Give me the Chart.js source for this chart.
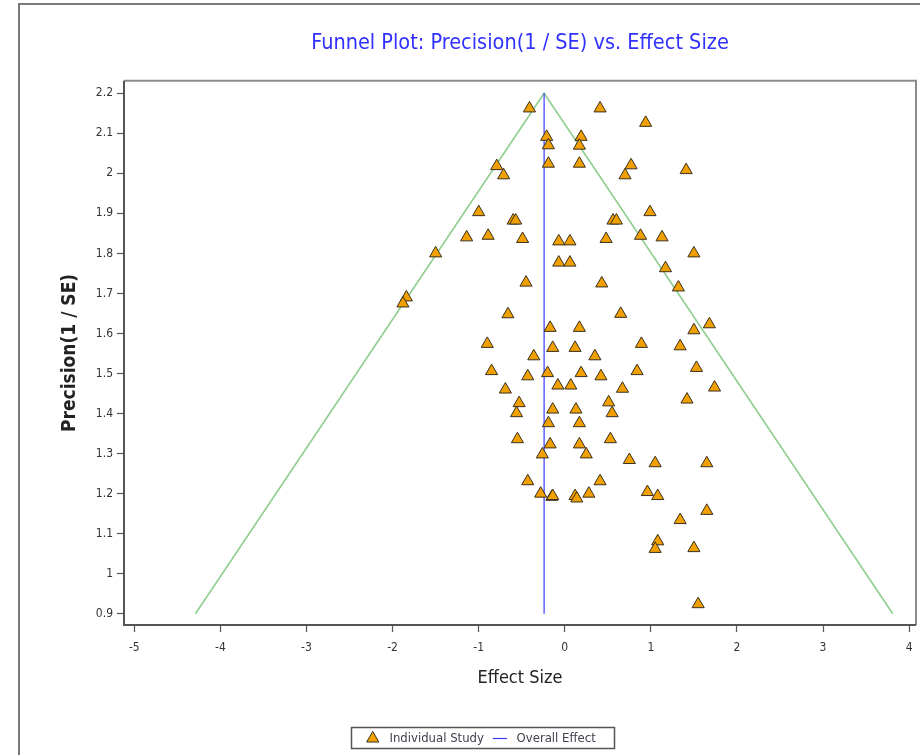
<!DOCTYPE html>
<html>
<head>
<meta charset="utf-8">
<script src="https://cdn.jsdelivr.net/npm/chart.js@4.4.1/dist/chart.umd.min.js"></script>
<style>
  html, body { margin: 0; padding: 0; background: #fff; }
  #wrap { width: 920px; height: 755px; position: relative; }
</style>
</head>
<body>
<div id="wrap"><canvas id="c" width="920" height="755"></canvas></div>
<script>
// ---- Data ----
const effectSize = [
  -0.41, 0.41, 0.94, -0.21, -0.19, 0.19, 0.17, -0.19, 0.17, -0.79,
  -0.71, 0.77, 0.70, 1.41, -1.00, -0.60, -0.57, 0.56, 0.60, 0.99,
  -1.14, -0.89, -0.49, -0.07, 0.06, 0.48, 0.88, 1.13, -1.50, 1.50,
  -0.07, 0.06, 1.17, -1.84, -1.88, -0.45, 0.43, 1.32, -0.66, 0.65,
  -0.17, 0.17, 1.50, 1.68, -0.90, -0.14, 0.12, 0.89, 1.34, -0.36,
  0.35, -0.85, -0.43, -0.20, 0.19, 0.42, 0.84, 1.53, -0.69, -0.08,
  0.07, 0.67, 1.74, -0.53, -0.56, -0.14, 0.13, 0.51, 0.55, 1.42,
  -0.19, 0.17, -0.55, -0.17, 0.17, 0.53, -0.26, 0.25, 0.75, 1.05,
  1.65, -0.43, 0.41, -0.28, -0.15, -0.14, 0.12, 0.14, 0.28, 0.96,
  1.08, 1.65, 1.34, 1.08, 1.05, 1.50, 1.55
];
const precision = [
  2.162, 2.162, 2.126, 2.091, 2.070, 2.091, 2.069, 2.024, 2.024, 2.018,
  1.995, 2.020, 1.995, 2.008, 1.903, 1.882, 1.882, 1.882, 1.882, 1.903,
  1.840, 1.844, 1.836, 1.830, 1.830, 1.836, 1.844, 1.840, 1.800, 1.800,
  1.777, 1.777, 1.763, 1.690, 1.675, 1.727, 1.725, 1.715, 1.648, 1.649,
  1.614, 1.614, 1.608, 1.623, 1.574, 1.564, 1.564, 1.574, 1.568, 1.543,
  1.543, 1.506, 1.493, 1.501, 1.501, 1.493, 1.506, 1.514, 1.460, 1.470,
  1.470, 1.462, 1.465, 1.426, 1.401, 1.410, 1.410, 1.428, 1.401, 1.435,
  1.376, 1.376, 1.336, 1.323, 1.323, 1.336, 1.298, 1.298, 1.284, 1.276,
  1.276, 1.231, 1.231, 1.200, 1.192, 1.194, 1.194, 1.188, 1.200, 1.204,
  1.194, 1.157, 1.134, 1.081, 1.062, 1.064, 0.924
];
const overallX = [-0.24, -0.24];
const overallY = [0.9, 2.2];
const funnelX = [-4.29, -0.24, 3.81];
const funnelY = [0.9, 2.2, 0.9];
const xTicks = [-5, -4, -3, -2, -1, 0, 1, 2, 3, 4];
const yTicks = [0.9, 1.0, 1.1, 1.2, 1.3, 1.4, 1.5, 1.6, 1.7, 1.8, 1.9, 2.0, 2.1, 2.2];
const seriesNames = ['Individual Study', 'Overall Effect', 'Funnel'];
const titleText = 'Funnel Plot: Precision(1 / SE) vs. Effect Size';
const xTitle = 'Effect Size';
const yTitle = 'Precision(1 / SE)';

const FONT = "'Liberation Sans Narrow', 'DejaVu Sans Condensed', 'Noto Sans', sans-serif";

const zip = (xs, ys) => xs.map((x, i) => ({ x: x, y: ys[i] }));

const framePlugin = {
  id: 'frames',
  beforeDraw(chart) {
    const ctx = chart.ctx;
    ctx.save();
    ctx.fillStyle = '#ffffff';
    ctx.fillRect(0, 0, chart.width, chart.height);
    ctx.strokeStyle = '#7a7a7a';
    ctx.lineWidth = 2;
    ctx.beginPath();
    ctx.moveTo(19, chart.height + 5);
    ctx.lineTo(19, 4);
    ctx.lineTo(chart.width + 5, 4);
    ctx.stroke();
    ctx.restore();
  },
  afterDraw(chart) {
    const a = chart.chartArea;
    const ctx = chart.ctx;
    ctx.save();
    ctx.lineWidth = 2;
    ctx.strokeStyle = '#8c8c8c';
    ctx.beginPath();
    ctx.moveTo(a.left, a.top);
    ctx.lineTo(a.right, a.top);
    ctx.lineTo(a.right, a.bottom);
    ctx.stroke();
    ctx.strokeStyle = '#555555';
    ctx.beginPath();
    ctx.moveTo(a.left, a.top);
    ctx.lineTo(a.left, a.bottom);
    ctx.lineTo(a.right, a.bottom);
    ctx.stroke();
    // legend box
    const lg = chart.legend;
    if (lg && lg.legendHitBoxes && lg.legendHitBoxes.length) {
      const hb = lg.legendHitBoxes;
      let l = Infinity, r = -Infinity, t = Infinity, b = -Infinity;
      hb.forEach(h => { l = Math.min(l, h.left); r = Math.max(r, h.left + h.width); t = Math.min(t, h.top); b = Math.max(b, h.top + h.height); });
      ctx.lineWidth = 1.5;
      ctx.strokeStyle = '#555555';
      ctx.strokeRect(Math.round(l - 15) + 0.5, Math.round(t - 5) + 0.5, Math.round(r - l + 34), Math.round(b - t + 8));
    }
    ctx.restore();
  }
};

new Chart(document.getElementById('c'), {
  type: 'scatter',
  data: {
    datasets: [
      {
        label: seriesNames[0],
        data: zip(effectSize, precision),
        pointStyle: 'triangle',
        pointRadius: 7,
        pointHoverRadius: 7,
        backgroundColor: '#f0a000',
        borderColor: '#3a3020',
        pointBackgroundColor: '#f0a000',
        pointBorderColor: '#3a3020',
        borderWidth: 1,
        pointBorderWidth: 1
      },
      {
        label: seriesNames[1],
        data: zip(overallX, overallY),
        showLine: true,
        borderColor: '#3838ff',
        backgroundColor: '#3838ff',
        pointBorderColor: '#3838ff',
        borderWidth: 1.2,
        pointRadius: 0,
        pointHoverRadius: 0,
        pointStyle: 'line'
      },
      {
        label: seriesNames[2],
        data: zip(funnelX, funnelY),
        showLine: true,
        borderColor: '#8fcf8f',
        backgroundColor: '#8fcf8f',
        borderWidth: 1.6,
        pointRadius: 0,
        pointHoverRadius: 0
      }
    ]
  },
  options: {
    responsive: false,
    animation: false,
    events: [],
    layout: { autoPadding: false, padding: { left: 46, right: 4, top: 0, bottom: 0 } },
    plugins: {
      tooltip: { enabled: false },
      title: {
        display: true,
        text: titleText,
        fullSize: false,
        color: '#3030ff',
        font: { family: FONT, size: 21.5, weight: 'normal', lineHeight: 1.2 },
        padding: { top: 31, bottom: 24 }
      },
      legend: {
        display: true,
        position: 'bottom',
        labels: {
          usePointStyle: true,
          boxHeight: 10,
          padding: 2,
          color: '#404050',
          font: { family: FONT, size: 13 },
          filter: (item) => item.datasetIndex < 2,
          generateLabels: (chart) => {
            const items = Chart.defaults.plugins.legend.labels.generateLabels(chart);
            items.forEach(it => { it.text = it.datasetIndex === 0 ? ' ' + it.text + '  ' : ' ' + it.text; });
            return items;
          }
        }
      }
    },
    scales: {
      x: {
        type: 'linear',
        position: 'bottom',
        min: -5.12,
        max: 4.08,
        afterBuildTicks: (s) => { s.ticks = xTicks.map(v => ({ value: v })); },
        afterFit: (s) => { s.height = 105; s.paddingRight = 0; s.paddingLeft = 0; },
        grid: { display: true, drawOnChartArea: false, drawTicks: true, tickLength: 7, color: '#555555', tickWidth: 1.2 },
        border: { display: false },
        ticks: { color: '#333333', padding: 9, font: { family: FONT, size: 12 }, callback: (v) => String(v) },
        title: { display: true, text: xTitle, color: '#222222', font: { family: FONT, size: 18 }, padding: { top: 0, bottom: 41 } }
      },
      y: {
        type: 'linear',
        position: 'left',
        min: 0.872,
        max: 2.231,
        afterBuildTicks: (s) => { s.ticks = yTicks.map(v => ({ value: v })); },
        afterFit: (s) => { s.width = 78; },
        grid: { display: true, drawOnChartArea: false, drawTicks: true, tickLength: 7, color: '#555555', tickWidth: 1.2 },
        border: { display: false },
        ticks: { color: '#333333', padding: 4, font: { family: FONT, size: 12 }, callback: (v) => String(Math.round(v * 10) / 10) },
        title: { display: true, text: yTitle, color: '#222222', font: { family: FONT, size: 19, weight: 'bold' }, padding: { top: 13, bottom: 0 } }
      }
    }
  },
  plugins: [framePlugin]
});
</script>
</body>
</html>
